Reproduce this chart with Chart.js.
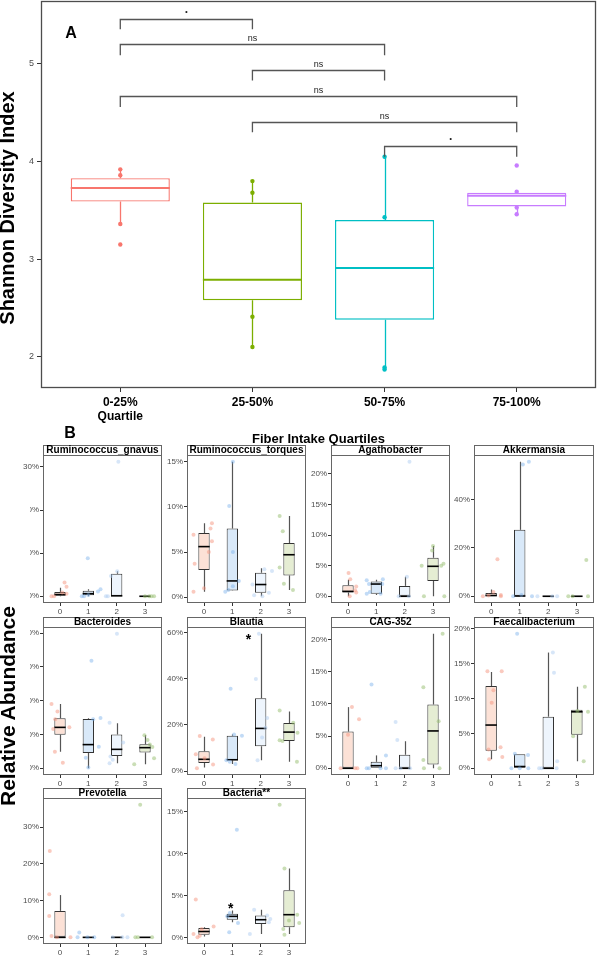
<!DOCTYPE html>
<html><head><meta charset="utf-8">
<script src="https://cdn.jsdelivr.net/npm/chart.js@4.4.1/dist/chart.umd.min.js"></script>
<style>
html,body{margin:0;padding:0;background:#fff;}
body{position:relative;width:600px;height:956px;overflow:hidden;font-family:'Liberation Sans',Arial,sans-serif;}
canvas{position:absolute;}
.t{position:absolute;white-space:nowrap;line-height:1;color:#000;font-weight:bold;z-index:6;}
.rot{transform:translate(-50%,-50%) rotate(-90deg);}
.ctr{transform:translate(-50%,-50%);}
.mask{position:absolute;left:0;top:503px;width:30px;height:310px;background:#fff;z-index:5;}
</style></head><body>
<div class="mask"></div>
<div class="t rot" style="left:7px;top:208px;font-size:20px;">Shannon Diversity Index</div>
<div class="t rot" style="left:7px;top:706px;font-size:21px;">Relative Abundance</div>
<div class="t ctr" style="left:71px;top:33px;font-size:16px;">A</div>
<div class="t ctr" style="left:70px;top:433px;font-size:16px;">B</div>
<script>
// ---------- Panel A data ----------
const quartiles = ['0-25%', '25-50%', '50-75%', '75-100%'];
const quartileNote = 'Quartile';
const shannonTicks = [2, 3, 4, 5];
// [lower whisker, Q1, median, Q3, upper whisker]
const shannonBoxes = [
  [3.36, 3.59, 3.73, 3.83, 3.92],
  [2.10, 2.58, 2.79, 3.58, 3.80],
  [1.87, 2.38, 2.91, 3.40, 4.05],
  [3.46, 3.54, 3.65, 3.68, 3.69]
];
const shannonPoints = [
  [3.92, 3.86, 3.36, 3.15],
  [3.80, 3.68, 2.41, 2.10],
  [4.05, 3.43, 1.89, 1.87],
  [3.96, 3.69, 3.53, 3.46]
];
// [from group, to group, bracket level, leg end, label]
const shannonBrackets = [
  [0, 1, 5.46, 5.355, '.'],
  [0, 2, 5.20, 5.09, 'ns'],
  [1, 2, 4.94, 4.83, 'ns'],
  [0, 3, 4.675, 4.56, 'ns'],
  [1, 3, 4.41, 4.30, 'ns'],
  [2, 3, 4.155, 4.05, '.']
];

// ---------- Panel B data (relative abundance, %) ----------
const groupCodes = ['0', '1', '2', '3'];

const gnavusTicks = [0, 10, 20, 30];
const gnavusBoxes = [[0,0.1,0.4,1.0,2.0],[0,0.25,0.6,1.3,1.6],[0,0,0.1,5.2,5.8],[0,0,0,0.1,0.1]];
const gnavusValues = [[0,0,3.2,2.2,0.6,0.9],[8.8,0,0,1.1,1.6,0.3],[31.2,4.7,5.8,0,0],[0,0,0,0]];
const gnavusJitter = [[-0.30,-0.21,0.16,0.23,0.23,0.08],[-0.02,-0.23,-0.15,0.34,0.43,0.0],[0.06,-0.2,0.02,-0.31,-0.38],[0.0,0.15,0.23,0.32]];

const torquesTicks = [0, 5, 10, 15];
const torquesBoxes = [[0.6,3.0,5.6,7.1,8.2],[0.7,0.75,1.8,7.6,15.0],[0.1,0.5,1.4,2.7,3.2],[0.8,2.4,4.7,6.0,9.0]];
const torquesValues = [[6.9,3.7,0.6,1.0,8.2,7.6,6.2,5.0],[15.0,10.1,5.0,0.6,0.8,1.8,1.2],[1.4,0.2,3.1,0.5,2.9,0.1],[9.0,7.3,3.3,1.5,0.8]];
const torquesJitter = [[-0.37,-0.33,-0.37,0,0.28,0.23,0.28,0.17],[0.02,-0.11,0.02,-0.25,-0.14,0.23,0.02],[-0.29,-0.23,0.13,0.29,0.40,0.06],[-0.33,-0.22,-0.33,-0.18,0.14]];

const agathoTicks = [0, 5, 10, 15, 20];
const agathoBoxes = [[0,0.6,0.8,1.8,2.7],[0.2,0.4,2.0,2.4,2.7],[0,0,0,1.7,3.2],[0,2.5,4.9,6.3,8.2]];
const agathoValues = [[3.8,2.8,1.6,1.0,0.6,0],[2.6,2.0,0.4,0.7,2.8,2.0,0.4],[22.0,3.2,0,0],[8.2,7.5,5.0,5.0,5.3,0,0]];
const agathoJitter = [[0.02,0.08,0.29,0.25,0.29,0.06],[-0.34,-0.26,-0.34,-0.23,0.23,0.21,0.15],[0.17,0.08,-0.21,0.15],[0,-0.03,-0.4,0.29,0.37,-0.32,0.4]];

const akkTicks = [0, 20, 40];
const akkBoxes = [[0,0,0.3,1.4,2.8],[0,0,0.1,27.5,55.7],[0,0,0,0.05,0.1],[0,0,0,0.05,0.1]];
const akkValues = [[0,1.8,15.3,0.5,0,0.3],[0,54.6,55.7,0,0.5],[0,0,0],[0,0,15.0,0]];
const akkJitter = [[-0.29,0.08,0.22,0.34,0.34,-0.09],[-0.23,0.11,0.32,0.43,0.06],[-0.38,0.14,0.31],[-0.3,-0.15,0.33,0.39]];

const bacteroidesTicks = [0, 10, 20, 30, 40];
const bacteroidesBoxes = [[4.9,9.9,12.1,14.8,19.0],[0,4.5,7.0,14.6,14.8],[1.5,3.6,5.6,10.0,13.3],[1.2,4.7,6.1,7.1,9.8]];
const bacteroidesValues = [[19.0,16.8,14.5,11.6,4.9,1.6,12.1],[31.8,14.9,6.4,3.1,0.2,14.5],[39.8,13.5,1.5,3.5,7.6,2.5],[9.8,7.0,6.3,3.0,1.2,8.4]];
const bacteroidesJitter = [[-0.3,-0.09,-0.17,-0.24,-0.18,0.1,0.33],[0.11,0.43,0.37,-0.09,0,0.17],[0.01,-0.25,-0.25,-0.22,0.23,-0.14],[-0.02,0.17,0.26,0.32,-0.38,0.09]];

const blautiaTicks = [0, 20, 40, 60];
const blautiaBoxes = [[1.5,3.5,5.1,8.6,14.9],[3.1,4.7,4.9,15.3,15.9],[4.7,10.8,18.5,31.6,59.6],[4.0,13.0,16.9,20.8,25.8]];
const blautiaValues = [[15.2,7.3,1.2,5.6,13.7,2.8],[35.7,15.9,15.3,4.7,3.1,4.0],[59.6,40.0,23.0,18.8,4.7,14.6],[26.3,13.4,13.0,21.0,16.6,4.0]];
const blautiaJitter = [[-0.15,-0.29,-0.25,0.02,0.31,0.32],[-0.06,0.06,0.34,-0.21,0.11,-0.09],[-0.06,-0.17,0.23,0.17,-0.11,0.05],[-0.33,-0.33,-0.23,0.15,0.3,0.28]];

const cagTicks = [0, 5, 10, 15, 20];
const cagBoxes = [[0,0,0,5.7,9.5],[0,0,0.4,1.0,2.0],[0,0,0,2.1,4.2],[0,0.6,5.8,9.9,20.9]];
const cagValues = [[9.5,5.2,7.6,0,0,0],[13.0,2.0,0,0,0,0],[7.2,4.4,0,0,0],[20.9,12.6,7.3,1.3,0,0]];
const cagJitter = [[0.14,0,0.39,-0.26,0.25,0.33],[-0.17,0.34,-0.34,-0.26,0.15,0.34],[-0.32,-0.26,-0.32,0.19,-0.15],[0.34,-0.34,0.2,-0.34,-0.32,0.23]];

const faecaliTicks = [0, 5, 10, 15, 20];
const faecaliBoxes = [[1.3,2.5,6.2,11.8,13.8],[0,0,0.25,2.0,2.0],[0,0,0,7.4,16.6],[1.0,4.8,8.1,8.4,11.7]];
const faecaliValues = [[13.9,11.2,9.4,2.7,1.3,3.0,13.9,1.6],[19.3,2.1,1.9,0,0,0],[16.6,13.7,1.0,0,0,0],[11.7,8.1,4.6,1.0,8.2]];
const faecaliJitter = [[-0.13,0.08,0.02,-0.09,-0.07,0.33,0.37,0.39],[-0.09,-0.17,0.29,-0.29,0,0.3],[0.16,0.2,0.31,-0.32,-0.23,0.29],[0.28,0.39,-0.13,0.24,0.02]];

const prevoTicks = [0, 10, 20, 30];
const prevoBoxes = [[0,0,0,7.2,11.5],[0,0,0,0.15,0.2],[0,0,0,0.05,0.05],[0,0,0,0.05,0.1]];
const prevoValues = [[23.5,11.7,5.8,0.4,0,0],[1.3,0,0,0],[6.0,0,0,0],[36.1,0,0,0]];
const prevoJitter = [[-0.36,-0.38,-0.38,-0.3,-0.11,0.37],[-0.32,-0.38,-0.03,0.21],[0.21,-0.14,0.2,0.38],[-0.17,-0.34,-0.25,0.25]];

const bacteriaTicks = [0, 5, 10, 15];
const bacteriaBoxes = [[0.1,0.3,0.7,1.1,1.2],[1.8,2.1,2.5,2.8,3.2],[0.4,1.6,2.1,2.6,3.3],[0.4,1.2,2.7,5.6,8.2]];
const bacteriaValues = [[4.5,0.4,0,0.2,1.0,1.3],[12.8,0.6,2.5,1.7,2.9],[3.3,0.4,2.6,2.2,1.8],[15.8,8.2,1.0,2.7,1.7,0.3,2.0]];
const bacteriaJitter = [[-0.29,-0.37,-0.23,-0.15,-0.08,0.34],[0.16,-0.11,-0.18,0.2,-0.09],[-0.23,-0.38,0.23,0.34,0.29],[-0.33,-0.16,-0.2,0.29,0.36,-0.16,0]];

// significance stars: [facet, x (group units), y (%)]
const starMarks = [['Blautia', 1.57, 58.8], ['Bacteria**', 0.94, 3.9]];

// ---------- styling ----------
const FONT = "'Liberation Sans', Arial, sans-serif";
Chart.defaults.font.family = FONT;
const colorsA = ['#F8766D', '#7CAE00', '#00BFC4', '#C77CFF'];
const boxFillsB = ['#fce1d6', '#d9e9f9', '#eef5fd', '#e5edd3'];
const pointColorsB = ['rgba(246,150,128,0.5)', 'rgba(120,175,235,0.45)', 'rgba(175,205,242,0.5)', 'rgba(150,190,110,0.5)'];

// ---------- plugins ----------
const boxWhisker = {
  id: 'boxWhisker',
  beforeDatasetsDraw(chart, args, o) {
    const {ctx, scales: {x, y}} = chart;
    ctx.save();
    ctx.lineWidth = o.whiskerWidth;
    o.stats.forEach((s, i) => {
      const px = Math.round(x.getPixelForValue(i)) + 0.5;
      ctx.strokeStyle = o.whiskerColors[i];
      ctx.beginPath();
      ctx.moveTo(px, y.getPixelForValue(s[0])); ctx.lineTo(px, y.getPixelForValue(s[1]));
      ctx.moveTo(px, y.getPixelForValue(s[3])); ctx.lineTo(px, y.getPixelForValue(s[4]));
      ctx.stroke();
    });
    ctx.restore();
  },
  afterDatasetDraw(chart, args, o) {
    if (args.index !== 0) return;
    const {ctx, scales: {y}} = chart;
    ctx.save();
    ctx.lineWidth = o.medianWidth;
    args.meta.data.forEach((bar, i) => {
      const py = y.getPixelForValue(o.stats[i][2]);
      ctx.strokeStyle = o.medianColors[i];
      ctx.beginPath();
      ctx.moveTo(bar.x - bar.width / 2, py); ctx.lineTo(bar.x + bar.width / 2, py);
      ctx.stroke();
    });
    ctx.restore();
  }
};

const frame = {
  id: 'frame',
  afterDraw(chart, args, o) {
    const {ctx, chartArea: a} = chart;
    ctx.save();
    if (o.strip) {
      const h = o.stripH;
      ctx.fillStyle = '#fff';
      ctx.fillRect(a.left, a.top - h, a.right - a.left, h);
      ctx.strokeStyle = '#666'; ctx.lineWidth = 1;
      ctx.strokeRect(a.left + 0.5, a.top - h + 0.5, a.right - a.left - 1, h);
      ctx.fillStyle = '#000'; ctx.font = 'bold 10px ' + FONT;
      ctx.textAlign = 'center'; ctx.textBaseline = 'middle';
      ctx.fillText(o.strip, (a.left + a.right) / 2, a.top - h / 2 + 0.5);
    }
    ctx.strokeStyle = o.color; ctx.lineWidth = o.width;
    ctx.strokeRect(a.left + 0.5, a.top + 0.5, a.right - a.left - 1, a.bottom - a.top - 1);
    if (o.stars) {
      const {x, y} = chart.scales;
      ctx.fillStyle = '#000'; ctx.font = 'bold 14px ' + FONT;
      ctx.textAlign = 'center'; ctx.textBaseline = 'alphabetic';
      o.stars.forEach(s => ctx.fillText('*', x.getPixelForValue(s[1]), y.getPixelForValue(s[2]) + 8));
    }
    ctx.restore();
  }
};

const brackets = {
  id: 'brackets',
  afterDatasetsDraw(chart, args, o) {
    if (!o.items) return;
    const {ctx, scales: {x, y}} = chart;
    ctx.save();
    ctx.strokeStyle = '#555'; ctx.lineWidth = 1.3;
    ctx.textAlign = 'center';
    o.items.forEach(b => {
      const x1 = x.getPixelForValue(b[0]), x2 = x.getPixelForValue(b[1]);
      const yt = Math.round(y.getPixelForValue(b[2])) + 0.5, yb = y.getPixelForValue(b[3]);
      ctx.beginPath();
      ctx.moveTo(x1, yb); ctx.lineTo(x1, yt); ctx.lineTo(x2, yt); ctx.lineTo(x2, yb);
      ctx.stroke();
      ctx.fillStyle = '#222';
      if (b[4] === 'ns') {
        ctx.font = '9px ' + FONT; ctx.textBaseline = 'middle';
        ctx.fillText(b[4], (x1 + x2) / 2, yt - 6);
      } else {
        ctx.font = 'bold 12px ' + FONT; ctx.textBaseline = 'alphabetic';
        ctx.fillText(b[4], (x1 + x2) / 2, yt - 7);
      }
    });
    ctx.restore();
  }
};

function mkCanvas(left, top, w, h) {
  const c = document.createElement('canvas');
  c.width = w; c.height = h;
  c.style.left = left + 'px'; c.style.top = top + 'px';
  c.style.width = w + 'px'; c.style.height = h + 'px';
  document.body.appendChild(c);
  return c;
}

// ---------- Panel A ----------
new Chart(mkCanvas(0, -10, 600, 457), {
  type: 'bar',
  data: {
    datasets: [
      {type: 'bar', data: shannonBoxes.map((s, i) => ({x: i, y: [s[1], s[3]]})),
       backgroundColor: '#fff', borderColor: colorsA, borderWidth: 1.4, borderSkipped: false,
       barPercentage: 0.75, categoryPercentage: 1, order: 2},
      ...shannonPoints.map((vals, g) => ({
        type: 'scatter', data: vals.map(v => ({x: g, y: v})),
        backgroundColor: colorsA[g], borderWidth: 0, pointRadius: 2.2, order: 1
      }))
    ]
  },
  options: {
    responsive: false, animation: false, devicePixelRatio: 1,
    layout: {padding: {top: 11, right: 2, left: 0, bottom: 0}},
    plugins: {
      legend: {display: false}, tooltip: {enabled: false},
      boxWhisker: {stats: shannonBoxes, whiskerColors: colorsA, medianColors: colorsA, whiskerWidth: 1.3, medianWidth: 2},
      frame: {color: '#4d4d4d', width: 1.3},
      brackets: {items: shannonBrackets}
    },
    scales: {
      x: {
        type: 'linear', min: -0.6, max: 3.6, offset: false,
        afterBuildTicks: s => { s.ticks = quartiles.map((q, i) => ({value: i})); },
        afterFit: s => { s.height = 59; },
        grid: {display: true, drawOnChartArea: false, drawTicks: true, tickLength: 4, color: '#333', offset: false},
        border: {display: false},
        ticks: {autoSkip: false, maxRotation: 0, padding: 3, color: '#000', font: {size: 12, weight: 'bold'},
                callback: v => v === 0 ? [quartiles[0], quartileNote] : quartiles[v]},
        title: {display: true, text: 'Fiber Intake Quartiles', color: '#000', font: {size: 13, weight: 'bold'}, padding: 0}
      },
      y: {
        type: 'linear', min: 1.68, max: 5.645,
        afterBuildTicks: s => { s.ticks = shannonTicks.map(v => ({value: v})); },
        afterFit: s => { s.width = 41; },
        grid: {display: true, drawOnChartArea: false, drawTicks: true, tickLength: 4, color: '#333'},
        border: {display: false},
        ticks: {padding: 3, color: '#4d4d4d', font: {size: 9}}
      }
    }
  },
  plugins: [boxWhisker, frame, brackets]
});

// ---------- Panel B facets ----------
const facets = [
  {name: 'Ruminococcus_gnavus', ticks: gnavusTicks, boxes: gnavusBoxes, values: gnavusValues, jitter: gnavusJitter},
  {name: 'Ruminococcus_torques', ticks: torquesTicks, boxes: torquesBoxes, values: torquesValues, jitter: torquesJitter},
  {name: 'Agathobacter', ticks: agathoTicks, boxes: agathoBoxes, values: agathoValues, jitter: agathoJitter},
  {name: 'Akkermansia', ticks: akkTicks, boxes: akkBoxes, values: akkValues, jitter: akkJitter},
  {name: 'Bacteroides', ticks: bacteroidesTicks, boxes: bacteroidesBoxes, values: bacteroidesValues, jitter: bacteroidesJitter},
  {name: 'Blautia', ticks: blautiaTicks, boxes: blautiaBoxes, values: blautiaValues, jitter: blautiaJitter},
  {name: 'CAG-352', ticks: cagTicks, boxes: cagBoxes, values: cagValues, jitter: cagJitter},
  {name: 'Faecalibacterium', ticks: faecaliTicks, boxes: faecaliBoxes, values: faecaliValues, jitter: faecaliJitter},
  {name: 'Prevotella', ticks: prevoTicks, boxes: prevoBoxes, values: prevoValues, jitter: prevoJitter},
  {name: 'Bacteria**', ticks: bacteriaTicks, boxes: bacteriaBoxes, values: bacteriaValues, jitter: bacteriaJitter}
];

const colLeft = [43, 187, 331, 474];
const colWidth = [121, 121, 121, 122];
const rowStrip = [445, 617, 788];
const rowBottom = [603, 775, 944];
const STRIP = 10, YW = 32, XH = 14;

facets.forEach((f, idx) => {
  const col = idx % 4, row = Math.floor(idx / 4);
  const w = YW + colWidth[col] + 2;
  const h = rowBottom[row] - rowStrip[row] + XH;
  const all = f.values.flat().concat(f.boxes.flat());
  const lo = Math.min(...all), hi = Math.max(...all), span = hi - lo;
  const stars = starMarks.filter(s => s[0] === f.name);
  new Chart(mkCanvas(colLeft[col] - YW, rowStrip[row], w, h), {
    type: 'bar',
    data: {
      datasets: [
        {type: 'bar', data: f.boxes.map((s, i) => ({x: i, y: [s[1], s[3]]})),
         backgroundColor: boxFillsB, borderColor: '#333', borderWidth: 1, borderSkipped: false,
         barPercentage: 0.4, categoryPercentage: 1, order: 2},
        ...f.values.map((vals, g) => ({
          type: 'scatter', data: vals.map((v, k) => ({x: g + f.jitter[g][k], y: v})),
          backgroundColor: pointColorsB[g], borderWidth: 0, pointRadius: 2, order: 1
        }))
      ]
    },
    options: {
      responsive: false, animation: false, devicePixelRatio: 1,
      layout: {padding: {top: STRIP, right: 2, left: 0, bottom: 0}},
      plugins: {
        legend: {display: false}, tooltip: {enabled: false},
        boxWhisker: {stats: f.boxes, whiskerColors: ['#555', '#555', '#555', '#555'], medianColors: ['#000', '#000', '#000', '#000'], whiskerWidth: 1.2, medianWidth: 1.6},
        frame: {color: '#666', width: 1, strip: f.name, stripH: STRIP, stars: stars}
      },
      scales: {
        x: {
          type: 'linear', min: -0.6, max: 3.6, offset: false,
          afterBuildTicks: s => { s.ticks = groupCodes.map((c, i) => ({value: i})); },
          afterFit: s => { s.height = XH; },
          grid: {display: true, drawOnChartArea: false, drawTicks: true, tickLength: 3, color: '#333', offset: false},
          border: {display: false},
          ticks: {autoSkip: false, maxRotation: 0, padding: 1, color: '#4d4d4d', font: {size: 8}, callback: v => groupCodes[v]}
        },
        y: {
          type: 'linear', min: lo - 0.05 * span, max: hi + 0.05 * span,
          afterBuildTicks: s => { s.ticks = f.ticks.map(v => ({value: v})); },
          afterFit: s => { s.width = YW; },
          grid: {display: true, drawOnChartArea: false, drawTicks: true, tickLength: 3, color: '#333'},
          border: {display: false},
          ticks: {padding: 1, color: '#4d4d4d', font: {size: 8}, callback: v => v + '%'}
        }
      }
    },
    plugins: [boxWhisker, frame]
  });
});
</script>
</body></html>
